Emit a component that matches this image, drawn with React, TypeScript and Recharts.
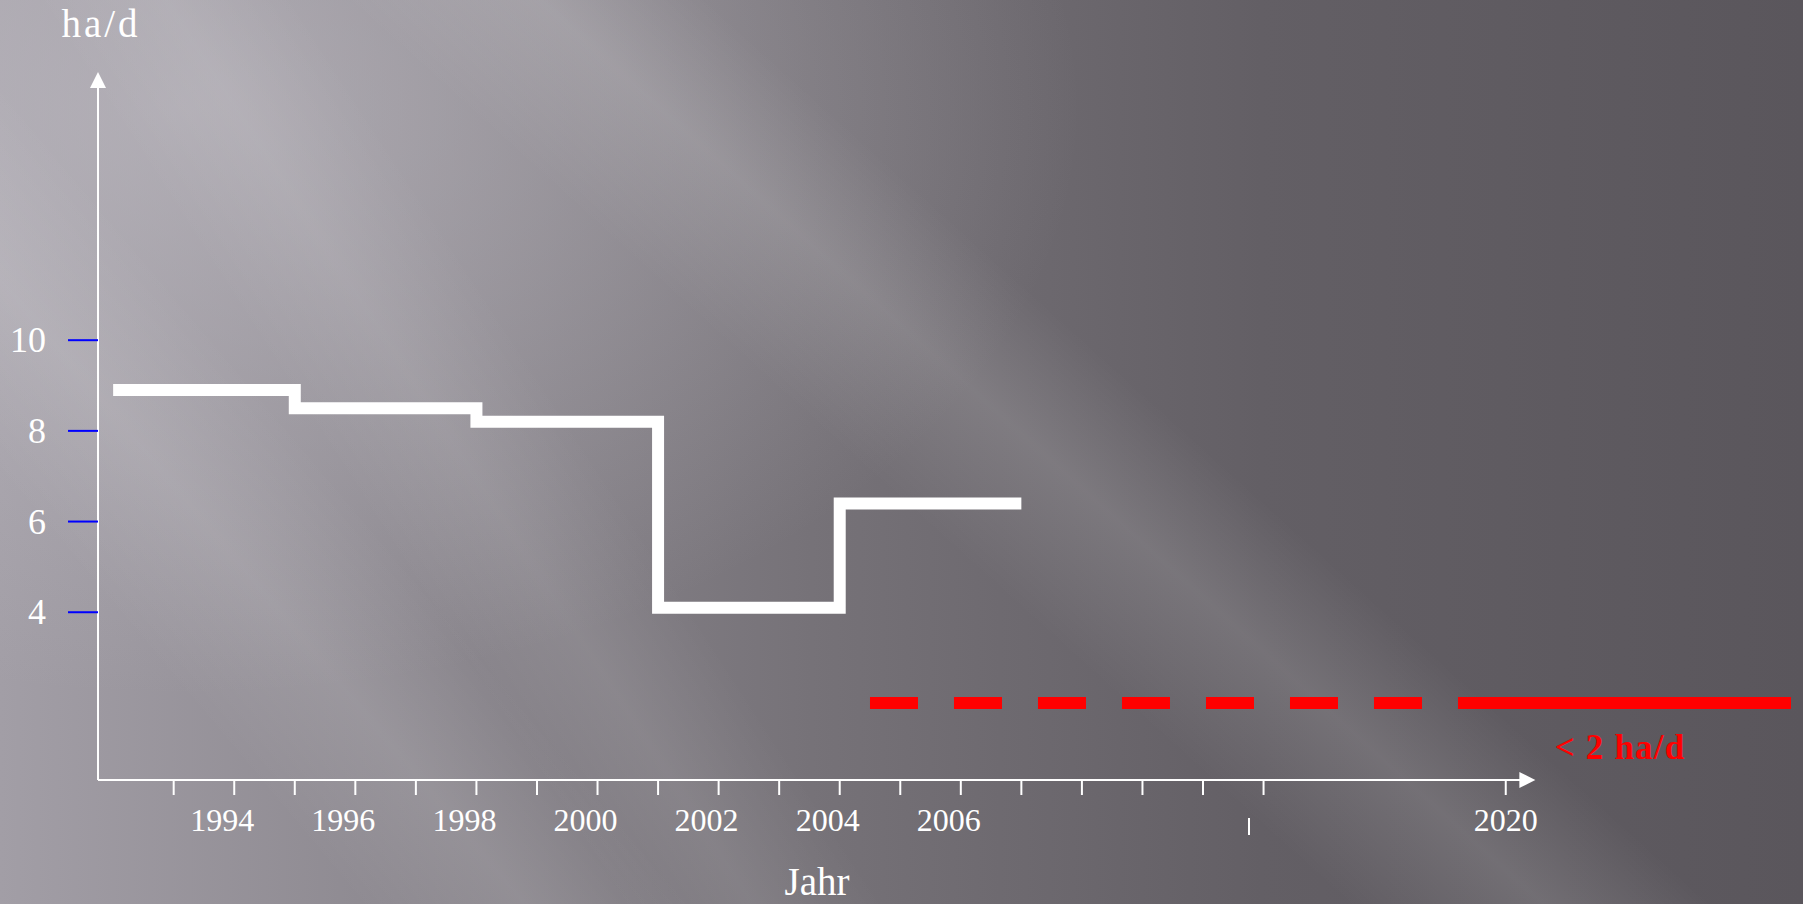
import React from 'react';
import { ComposedChart, Line, XAxis, YAxis, ReferenceLine } from 'recharts';

// Flächenverbrauch in ha pro Tag, je Dreijahreszeitraum
const periodStarts = [1992, 1995, 1998, 2001, 2004];
const periodEnd = 2007;
const periodValues = [8.9, 8.5, 8.2, 4.1, 6.4];

// Ziel: unter 2 ha/d
const targetValue = 2;
const targetStart = 2004.5;
const targetLabel = '< 2 ha/d';

const yTicks = [4, 6, 8, 10];
const tickYears = [
  1993, 1994, 1995, 1996, 1997, 1998, 1999, 2000, 2001, 2002,
  2003, 2004, 2005, 2006, 2007, 2008, 2009, 2010, 2011, 2020,
];
const labelledYears = [1994, 1996, 1998, 2000, 2002, 2004, 2006, 2020];
const yTitle = 'ha/d';
const xTitle = 'Jahr';

// Time axis with a break: after 2011 nine years share four tick steps
const BREAK_YEAR = 2011;
const COMPRESS = 4 / 9;
const axisPos = (year: number) =>
  year <= BREAK_YEAR ? year : BREAK_YEAR + (year - BREAK_YEAR) * COMPRESS;

const X_MIN_YEAR = 1991.75;
const X_MAX_YEAR = 2030.6;
const X_AXIS_END_YEAR = 2021.1;
const BREAK_MARK_YEAR = 2010.76;
const Y_MIN = 0.3;
const Y_MAX = 15.915;

const FONT = '"Liberation Serif", "Times New Roman", serif';

const stepData = [
  ...periodStarts.map((year, i) => ({ x: axisPos(year), v: periodValues[i] })),
  { x: axisPos(periodEnd), v: periodValues[periodValues.length - 1] },
];
const targetData = [
  { x: axisPos(targetStart), t: targetValue },
  { x: axisPos(X_MAX_YEAR), t: targetValue },
];
const xTickPositions = [...tickYears.map(axisPos), axisPos(BREAK_MARK_YEAR)];
const labelByPos = new Map(labelledYears.map((y) => [axisPos(y), String(y)]));
const breakPos = axisPos(BREAK_MARK_YEAR);

const ArrowLine = (props: any) => {
  const { x1, y1, x2, y2 } = props;
  const dx = x2 - x1;
  const dy = y2 - y1;
  const len = Math.sqrt(dx * dx + dy * dy) || 1;
  const ux = dx / len;
  const uy = dy / len;
  const head = 16;
  const half = 8;
  const bx = x2 - ux * head;
  const by = y2 - uy * head;
  const px = -uy;
  const py = ux;
  return (
    <g>
      <line x1={x1} y1={y1} x2={bx + ux} y2={by + uy} stroke="#ffffff" strokeWidth={2} />
      <polygon
        points={`${x2},${y2} ${bx + px * half},${by + py * half} ${bx - px * half},${by - py * half}`}
        fill="#ffffff"
      />
    </g>
  );
};

const XTick = (props: any) => {
  const { x, y, payload } = props;
  const v = payload.value;
  if (Math.abs(v - breakPos) < 1e-6) {
    return <line x1={x} y1={y + 38} x2={x} y2={y + 55} stroke="#ffffff" strokeWidth={2} />;
  }
  const label = labelByPos.get(v);
  // labels before the axis break sit a little left of their tick
  const shift = v <= BREAK_YEAR ? -12 : 0;
  return (
    <g>
      <line x1={x} y1={y} x2={x} y2={y + 15} stroke="#ffffff" strokeWidth={2} />
      {label && (
        <text x={x + shift} y={y + 51} textAnchor="middle" fill="#ffffff" fontFamily={FONT} fontSize={32}>
          {label}
        </text>
      )}
    </g>
  );
};

const YTick = (props: any) => {
  const { x, y, payload } = props;
  return (
    <g>
      <line x1={x - 30} y1={y} x2={x} y2={y} stroke="#0000ff" strokeWidth={2} />
      <text x={x - 52} y={y + 12} textAnchor="end" fill="#ffffff" fontFamily={FONT} fontSize={36}>
        {payload.value}
      </text>
    </g>
  );
};

const XTitle = (props: any) => {
  const vb = props.viewBox || { x: 98, y: 780 };
  return (
    <text x={vb.x + 719} y={vb.y + 115} textAnchor="middle" fill="#ffffff" fontFamily={FONT} fontSize={39}>
      {xTitle}
    </text>
  );
};

const YTitle = (props: any) => {
  const vb = props.viewBox || { x: 0, y: 72, width: 98 };
  return (
    <text
      x={vb.x + vb.width + 3}
      y={vb.y - 35}
      textAnchor="middle"
      fill="#ffffff"
      fontFamily={FONT}
      fontSize={39}
      letterSpacing={3}
    >
      {yTitle}
    </text>
  );
};

const renderTargetLabel = (props: any) => {
  const { x, y, index } = props;
  if (index !== targetData.length - 1) return <g />;
  return (
    <text
      x={x - 171}
      y={y + 56}
      textAnchor="middle"
      fill="#ff0000"
      fontFamily={FONT}
      fontWeight="bold"
      fontSize={35}
      letterSpacing={1.2}
    >
      {targetLabel}
    </text>
  );
};

const background = [
  'linear-gradient(42deg, rgba(255,255,255,0) 48%, rgba(255,255,255,0.12) 55%, rgba(255,255,255,0) 61%)',
  'linear-gradient(57deg, rgba(255,255,255,0) 26%, rgba(255,255,255,0.08) 31.5%, rgba(255,255,255,0) 37%)',
  'linear-gradient(50deg, rgba(255,255,255,0) 14%, rgba(255,255,255,0.10) 20.5%, rgba(255,255,255,0) 27%)',
  'radial-gradient(ellipse 50% 65% at 10% 12%, rgba(196,193,200,0.55) 0%, rgba(196,193,200,0) 100%)',
  'linear-gradient(90deg, #a29ea6 0%, #8d8990 22%, #767278 45%, #635f65 70%, #5a565c 100%)',
].join(', ');

export default function App() {
  return (
    <div
      style={{
        position: 'absolute',
        left: 0,
        top: 0,
        width: 1803,
        height: 904,
        background,
        overflow: 'hidden',
      }}
    >
      <ComposedChart width={1803} height={904} margin={{ top: 72, right: 12, bottom: 0, left: 0 }}>
        <XAxis
          type="number"
          dataKey="x"
          domain={[axisPos(X_MIN_YEAR), axisPos(X_MAX_YEAR)]}
          allowDataOverflow
          ticks={xTickPositions}
          interval={0}
          axisLine={false}
          tickLine={false}
          tickSize={0}
          tickMargin={0}
          tick={<XTick />}
          height={124}
          label={<XTitle />}
        />
        <YAxis
          type="number"
          domain={[Y_MIN, Y_MAX]}
          allowDataOverflow
          ticks={yTicks}
          interval={0}
          axisLine={false}
          tickLine={false}
          tickSize={0}
          tickMargin={0}
          tick={<YTick />}
          width={98}
          label={<YTitle />}
        />
        <ReferenceLine
          segment={[
            { x: axisPos(X_MIN_YEAR), y: Y_MIN },
            { x: axisPos(X_MIN_YEAR), y: Y_MAX },
          ]}
          ifOverflow="visible"
          shape={ArrowLine}
        />
        <ReferenceLine
          segment={[
            { x: axisPos(X_MIN_YEAR), y: Y_MIN },
            { x: axisPos(X_AXIS_END_YEAR), y: Y_MIN },
          ]}
          ifOverflow="visible"
          shape={ArrowLine}
        />
        <Line
          data={stepData}
          dataKey="v"
          type="stepAfter"
          stroke="#ffffff"
          strokeWidth={12}
          strokeLinejoin="miter"
          strokeLinecap="butt"
          dot={false}
          activeDot={false}
          isAnimationActive={false}
        />
        <Line
          data={targetData}
          dataKey="t"
          type="linear"
          stroke="#ff0000"
          strokeWidth={12}
          strokeLinecap="butt"
          strokeDasharray="48 36 48 36 48 36 48 36 48 36 48 36 48 36 2000"
          dot={false}
          activeDot={false}
          label={renderTargetLabel}
          isAnimationActive={false}
        />
      </ComposedChart>
    </div>
  );
}
